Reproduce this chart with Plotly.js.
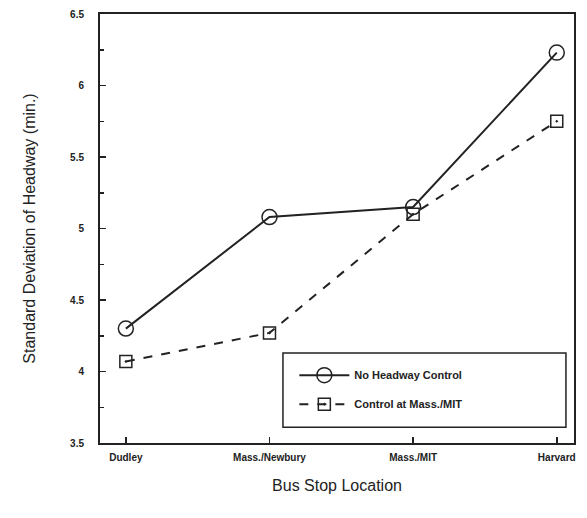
<!DOCTYPE html>
<html><head><meta charset="utf-8">
<script src="https://cdn.plot.ly/plotly-3.0.1.min.js"></script>
<style>html,body{margin:0;padding:0;background:#fff;}#chart{width:587px;height:518px;}</style>
</head><body><div id="chart"></div>
<script>
const categories = ["Dudley", "Mass./Newbury", "Mass./MIT", "Harvard"];
const noControl = [4.30, 5.08, 5.15, 6.23];
const controlMIT = [4.07, 4.27, 5.10, 5.75];
const seriesNames = ["No Headway Control", "Control at Mass./MIT"];
const yTicks = [3.5, 4, 4.5, 5, 5.5, 6, 6.5];
const yTickText = ["3.5", "4", "4.5", "5", "5.5", "6", "6.5"];

const ink = "#222";
const xIdx = categories.map((c, i) => i);
const traces = [
  {x: xIdx, y: noControl, name: seriesNames[0], legendgroup: "g1", type: "scatter", mode: "lines+markers",
   line: {color: ink, width: 2}, marker: {symbol: "circle-open", size: 15, color: ink, line: {width: 1.5, color: ink}}},
  {x: xIdx, y: controlMIT, name: seriesNames[1], legendgroup: "g2", type: "scatter", mode: "lines+markers",
   line: {color: ink, width: 2, dash: "dash"}, marker: {symbol: "square-open-dot", size: 12, color: ink, line: {width: 1.5, color: ink}}}
];
const layout = {
  width: 587, height: 518,
  margin: {l: 100, r: 13, t: 14, b: 75},
  paper_bgcolor: "#fff", plot_bgcolor: "#fff",
  font: {family: "Liberation Sans, Arial, sans-serif", color: ink},
  showlegend: true,
  legend: {x: 0.41, y: 0.192, xanchor: "left", yanchor: "top", bgcolor: "rgba(0,0,0,0)",
    borderwidth: 0, font: {size: 11, family: "Liberation Sans, Arial, sans-serif", weight: "bold"}, itemwidth: 50, tracegroupgap: 10},
  xaxis: {range: [-0.18, 3.12], tickmode: "array", tickvals: xIdx, ticktext: categories,
    ticks: "inside", ticklen: 6, tickwidth: 1.5, tickcolor: ink, showgrid: false, zeroline: false,
    showline: true, linewidth: 2, linecolor: ink, mirror: true,
    tickfont: {size: 10, weight: "bold"}, ticklabelstandoff: 4,
    title: {text: "Bus Stop Location", font: {size: 16}, standoff: 18}},
  yaxis: {range: [3.5, 6.5], tickmode: "array", tickvals: yTicks, ticktext: yTickText,
    ticks: "inside", ticklen: 6, tickwidth: 1.5, tickcolor: ink, showgrid: false, zeroline: false,
    showline: true, linewidth: 2, linecolor: ink, mirror: true,
    minor: {dtick: 0.25, ticks: "inside", ticklen: 4, tickcolor: ink},
    tickfont: {size: 10, weight: "bold"}, ticklabelstandoff: 12,
    title: {text: "Standard Deviation of Headway (min.)", font: {size: 16}, standoff: 30}},
  shapes: [{type: "rect", xref: "paper", yref: "paper", x0: 0.386, x1: 0.983, y0: 0.037, y1: 0.21,
    line: {color: ink, width: 1.5}}]
};
Plotly.newPlot("chart", traces, layout, {displayModeBar: false, staticPlot: true});
</script></body></html>
